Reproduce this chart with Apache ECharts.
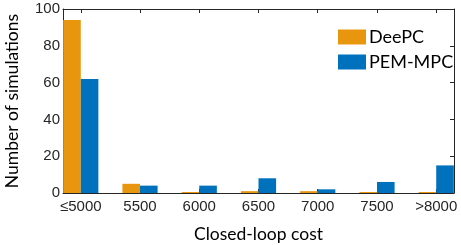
<!DOCTYPE html>
<html>
<head>
<meta charset="utf-8">
<script src="https://cdn.jsdelivr.net/npm/echarts@6/dist/echarts.min.js"></script>
<style>
  html, body { margin: 0; padding: 0; background: #fff; }
  #chart { width: 461px; height: 245px; }
</style>
</head>
<body>
<div id="chart"></div>
<script>
// cost bins (x categories)
const categories = ['≤5000', '5500', '6000', '6500', '7000', '7500', '>8000']
// number of simulations per bin
const deepc = [94, 5, 0, 1, 1, 0, 0]
const pemMpc = [62, 4, 4, 8, 2, 6, 15]
const yTicks = [0, 20, 40, 60, 80, 100]

const tickFont = 'Liberation Sans, Arial, sans-serif'
const labelFont = 'Lato, Open Sans, sans-serif'
const ink = '#262626'
const idx = categories.map((_, i) => i)

const chart = echarts.init(document.getElementById('chart'))

const xBase = {
  type: 'value',
  min: -0.3,
  max: 6.3,
  splitLine: { show: false },
  axisLine: { show: true, onZero: false, lineStyle: { color: ink, width: 1 } },
  axisTick: { show: true, inside: true, length: 4, customValues: idx, lineStyle: { color: ink } }
}
const yBase = {
  type: 'value',
  min: 0,
  max: 100,
  interval: 20,
  splitLine: { show: false },
  axisLine: { show: true, onZero: false, lineStyle: { color: ink, width: 1 } },
  axisTick: { show: true, inside: true, length: 4, lineStyle: { color: ink } }
}

chart.setOption({
  animation: false,
  grid: { left: 63, right: 7, top: 9, bottom: 52, outerBoundsMode: 'none' },
  legend: {
    orient: 'vertical',
    left: 333,
    top: 23,
    itemWidth: 28,
    itemHeight: 15,
    itemGap: 7,
    icon: 'rect',
    textStyle: { fontFamily: labelFont, fontSize: 18, color: '#000', padding: [0, 0, 0, -2] },
    data: ['DeePC', 'PEM-MPC']
  },
  xAxis: [
    Object.assign({}, xBase, {
      position: 'bottom',
      name: 'Closed-loop cost',
      nameLocation: 'middle',
      nameGap: 32,
      nameTextStyle: { fontFamily: labelFont, fontSize: 17.5, color: '#000' },
      axisLabel: {
        customValues: idx,
        formatter: v => categories[Math.round(v)],
        fontFamily: tickFont,
        fontSize: 15,
        color: ink,
        margin: 6
      }
    }),
    Object.assign({}, xBase, { position: 'top', axisLabel: { show: false } })
  ],
  yAxis: [
    Object.assign({}, yBase, {
      position: 'left',
      name: 'Number of simulations',
      nameLocation: 'middle',
      nameGap: 42,
      nameTextStyle: { fontFamily: labelFont, fontSize: 17.5, color: '#000' },
      axisLabel: {
        customValues: yTicks,
        fontFamily: tickFont,
        fontSize: 15,
        color: ink,
        margin: 3
      }
    }),
    Object.assign({}, yBase, { position: 'right', axisLabel: { show: false } })
  ],
  series: [
    {
      name: 'DeePC',
      type: 'bar',
      barWidth: 17.6,
      barGap: '0%',
      barMinHeight: 1,
      itemStyle: { color: '#E9960F' },
      data: deepc.map((v, i) => [i, v])
    },
    {
      name: 'PEM-MPC',
      type: 'bar',
      barWidth: 17.6,
      barGap: '0%',
      itemStyle: { color: '#0072BD' },
      data: pemMpc.map((v, i) => [i, v])
    }
  ]
})
</script>
</body>
</html>
